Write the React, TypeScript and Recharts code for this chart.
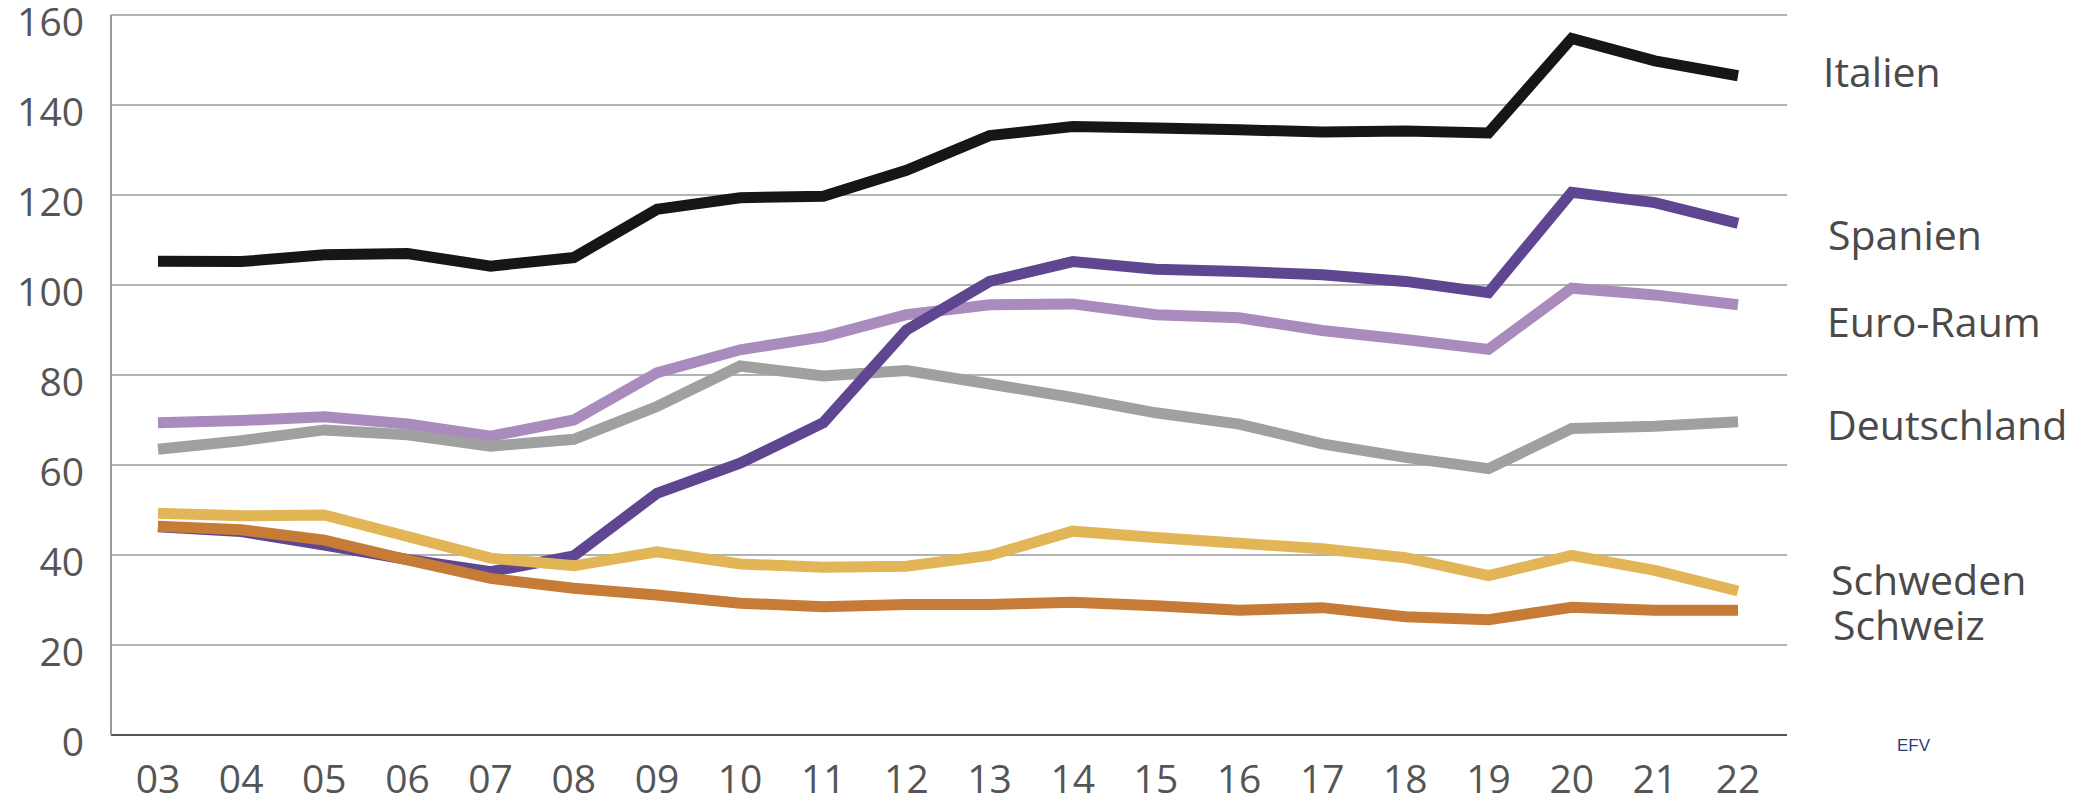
import React from 'react';
import { LineChart, Line, XAxis, YAxis, CartesianGrid, LabelList } from 'recharts';

const years = ['03','04','05','06','07','08','09','10','11','12','13','14','15','16','17','18','19','20','21','22'];
const italien = [105.3,105.2,106.7,107,104.2,106.1,116.8,119.4,119.7,125.5,133.2,135.2,134.9,134.5,134.0,134.2,133.8,154.8,149.8,146.5];
const spanien = [46.3,45.2,42.2,39,36.3,39.8,53.7,60.4,69.4,90,100.8,105.2,103.5,103,102.3,100.8,98.3,120.6,118.3,113.7];
const euroRaum = [69.4,69.9,70.7,69.1,66.4,70,80.5,85.6,88.5,93.4,95.6,95.8,93.4,92.7,89.9,87.9,85.7,99.3,97.8,95.6];
const deutschland = [63.5,65.4,67.8,66.7,64.2,65.7,73,82,79.8,81,78,75,71.6,69.1,64.7,61.7,59.2,68.1,68.6,69.6];
const schweden = [49.3,48.7,48.9,44.1,39.3,37.6,40.7,38,37.3,37.5,39.9,45.3,43.9,42.6,41.4,39.4,35.4,39.9,36.6,32];
const schweiz = [46.4,45.6,43.3,38.9,34.8,32.6,31.1,29.3,28.5,29,29,29.5,28.7,27.7,28.3,26.3,25.6,28.4,27.7,27.7];
const yTicks = [0,20,40,60,80,100,120,140,160];

const data = years.map((y, i) => ({
  year: y,
  italien: italien[i],
  spanien: spanien[i],
  euroRaum: euroRaum[i],
  deutschland: deutschland[i],
  schweden: schweden[i],
  schweiz: schweiz[i],
}));

const FONT = '"Open Sans", "Noto Sans", sans-serif';
const last = years.length - 1;

const YTick = (props: any) => {
  const { x, y, payload } = props;
  return (
    <text x={x} y={y + 5} textAnchor="end" dominantBaseline="central" fontFamily={FONT} fontSize={39} fill="#555">
      {payload.value}
    </text>
  );
};

const XTick = (props: any) => {
  const { x, y, payload } = props;
  return (
    <text x={x} y={y} textAnchor="middle" dominantBaseline="central" fontFamily={FONT} fontSize={39} fill="#555">
      {payload.value}
    </text>
  );
};

const makeLabel = (name: string, dx: number, dy: number) => (props: any) => {
  const { x, y, index } = props;
  if (index !== last) return null;
  return (
    <text x={x + dx} y={y + dy} textAnchor="start" dominantBaseline="central" fontFamily={FONT} fontSize={41} fill="#4a4a4a">
      {name}
    </text>
  );
};

const series = [
  { key: 'euroRaum', name: 'Euro-Raum', color: '#a98bbd', dx: 89, dy: 16 },
  { key: 'deutschland', name: 'Deutschland', color: '#a0a0a0', dx: 89, dy: 2 },
  { key: 'spanien', name: 'Spanien', color: '#5e4691', dx: 90, dy: 11 },
  { key: 'schweden', name: 'Schweden', color: '#e2b556', dx: 93, dy: -12 },
  { key: 'schweiz', name: 'Schweiz', color: '#c67b36', dx: 95, dy: 14 },
  { key: 'italien', name: 'Italien', color: '#161616', dx: 85, dy: -5 },
];

export default function App() {
  return (
    <div style={{ position: 'absolute', left: 0, top: 0, width: 2090, height: 804, background: '#fff' }}>
      <LineChart width={2090} height={804} data={data} margin={{ top: 15, right: 303, bottom: 0, left: 11 }}>
        <CartesianGrid vertical={false} stroke="#9a9a9a" strokeWidth={1.6} />
        <XAxis
          dataKey="year"
          height={69}
          padding={{ left: 47, right: 49 }}
          tickLine={false}
          tickSize={0}
          tickMargin={42}
          axisLine={{ stroke: '#555', strokeWidth: 2 }}
          tick={<XTick />}
          interval={0}
        />
        <YAxis
          width={100}
          domain={[0, 160]}
          ticks={yTicks}
          tickLine={false}
          tickSize={0}
          tickMargin={27}
          axisLine={{ stroke: '#999', strokeWidth: 2 }}
          tick={<YTick />}
          interval={0}
        />
        {series.map((s) => (
          <Line
            key={s.key}
            dataKey={s.key}
            type="linear"
            stroke={s.color}
            strokeWidth={11}
            strokeLinecap="butt"
            strokeLinejoin="miter"
            dot={false}
            activeDot={false}
            isAnimationActive={false}
          >
            <LabelList dataKey={s.key} content={makeLabel(s.name, s.dx, s.dy)} />
          </Line>
        ))}
      </LineChart>
      <div style={{ position: 'absolute', left: 1897, top: 737, fontFamily: '"Liberation Sans", Arial, sans-serif', fontSize: 17, lineHeight: '17px', color: '#2b3f72' }}>
        EFV
      </div>
    </div>
  );
}
